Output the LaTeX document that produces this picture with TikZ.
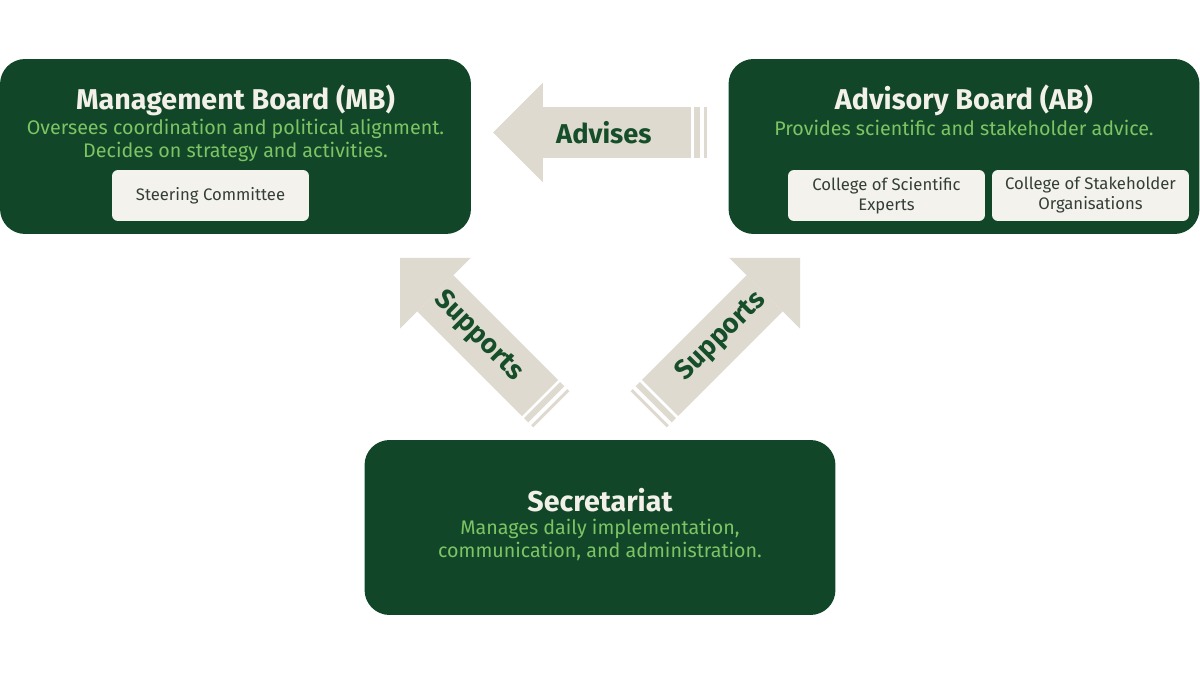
\documentclass[tikz,border=0pt]{standalone}
\usepackage{fontspec}
\setmainfont{Fira Sans}
\usepackage{xcolor}
\usepackage{tikz}
\usetikzlibrary{arrows.meta,positioning,calc}
\definecolor{boardgreen}{RGB}{17,71,40}
\definecolor{desclime}{RGB}{125,196,100}
\definecolor{titlecream}{RGB}{242,240,232}
\definecolor{chipcream}{RGB}{244,242,236}
\definecolor{chiptext}{RGB}{52,62,56}
\definecolor{arrowbeige}{RGB}{222,218,207}
\definecolor{arrowgreen}{RGB}{22,78,42}

\begin{document}
\begin{tikzpicture}[x=0.02cm,y=-0.02cm,
  board/.style={fill=boardgreen,rounded corners=0.5cm,minimum width=9.42cm,
                minimum height=3.5cm,inner sep=0pt},
  boardtitle/.style={text=titlecream,font=\bfseries\fontsize{16.3}{19}\selectfont,inner sep=0pt},
  boarddesc/.style={text=desclime,font=\fontsize{11.2}{13.1}\selectfont,align=center,inner sep=0pt},
  chip/.style={fill=chipcream,rounded corners=0.12cm,minimum width=3.94cm,
               minimum height=1.02cm,inner sep=0pt,align=center,text=chiptext,
               font=\fontsize{9.5}{11.4}\selectfont},
  bigarrow/.style={draw=arrowbeige,line width=1.02cm,
                   -{Triangle[length=1cm,width=2cm,line width=0pt]}},
  stripe/.style={draw=arrowbeige,line width=1.02cm},
  arrowtext/.style={text=arrowgreen,font=\bfseries\fontsize{15.5}{17}\selectfont,sloped,inner sep=0pt}]

  \useasboundingbox (0,0) rectangle (1200,675);

  % Management Board
  \node[board] (mb) at (235.5,146.5) {};
  \node[boardtitle] (mbtitle) at (235.5,100) {Management Board (MB)};
  \node[boarddesc] (mbdesc) at (235.5,140)
    {Oversees coordination and political alignment.\\
     Decides on strategy and activities.};
  \node[chip] (steer) at (210.5,195.5) {Steering Committee};

  % Advisory Board
  \node[board] (ab) at (964,146.5) {};
  \node[boardtitle] (abtitle) at (964,100) {Advisory Board (AB)};
  \node[boarddesc] (abdesc) at (964,128)
    {Provides scientific and stakeholder advice.};
  \node[chip] (sci) at (886.5,195.5) {College of Scientific\\Experts};
  \node[chip] (stake) at (1090.5,195.5) {College of Stakeholder\\Organisations};

  % Secretariat
  \node[board] (sec) at (600,527.5) {};
  \node[boardtitle] (sectitle) at (600,500) {Secretariat};
  \node[boarddesc] (secdesc) at (600,540)
    {Manages daily implementation,\\
     communication, and administration.};

  % Arrow ends
  \coordinate (advtail) at (691,132.5);
  \coordinate (advtip) at (493,132.5);
  \coordinate (lsuptail) at (540,398);
  \coordinate (lsuptip) at (400,258);
  \coordinate (rsuptail) at (660,398);
  \coordinate (rsuptip) at (800,258);

  % Block arrows
  \draw[bigarrow] (advtail) -- node[arrowtext,pos=0.44] (advlbl) {Advises} (advtip);
  \draw[bigarrow] (lsuptail) -- node[arrowtext,pos=0.44] (lsuplbl) {Supports} (lsuptip);
  \draw[bigarrow] (rsuptail) -- node[arrowtext,pos=0.44] (rsuplbl) {Supports} (rsuptip);

  % Tail stripes
  \foreach \t/\h in {advtail/advtip,lsuptail/lsuptip,rsuptail/rsuptip}{
    \draw[stripe] ($(\t)!-0.06cm!(\h)$) -- ($(\t)!-0.18cm!(\h)$);
    \draw[stripe] ($(\t)!-0.26cm!(\h)$) -- ($(\t)!-0.32cm!(\h)$);
  }

\end{tikzpicture}
\end{document}
